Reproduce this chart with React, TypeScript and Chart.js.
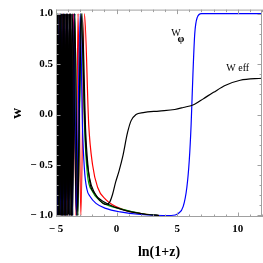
import { useEffect, useRef } from 'react';
import { Chart, registerables } from 'chart.js';

Chart.register(...registerables);

// Tick labels
const xMajorTicks = [-5, 0, 5, 10];
const yMajorTicks = [-1, -0.5, 0, 0.5, 1];

// W_eff (black): fast oscillations at the left, then the smooth curve
const wEff: [number, number][] = [
  [-5.0, 1], [-4.94, -1], [-4.88, 1], [-4.82, -1], [-4.76, 1], [-4.7, -1], [-4.64, 1], [-4.58, -1],
  [-4.52, 1], [-4.46, -1], [-4.4, 1], [-4.34, -1], [-4.28, 1], [-4.22, -1], [-4.16, 1], [-4.1, -1],
  [-4.04, 1], [-3.98, -1], [-3.92, 1], [-3.86, -1], [-3.8, 1], [-3.74, -1], [-3.68, 1], [-3.62, -1],
  [-3.45, 1], [-3.2, -1], [-2.95, 1],
  [-2.55, -0.3], [-2.23, -0.63], [-1.8, -0.78], [-1.4, -0.85], [-0.9, -0.89], [-0.58, -0.87],
  [-0.33, -0.79], [-0.08, -0.67], [0.2, -0.56], [0.5, -0.42], [0.9, -0.18], [1.2, -0.06],
  [1.6, 0.0], [2.2, 0.02], [3.5, 0.035], [4.8, 0.05], [5.5, 0.07], [6.4, 0.1], [7.2, 0.16],
  [8.0, 0.22], [9.0, 0.29], [10.2, 0.34], [12.0, 0.36],
];

// w_phi, black initial condition
const wPhiBlack: [number, number][] = [
  [-5.0, -1], [-4.97, 1], [-4.91, -1], [-4.85, 1], [-4.79, -1], [-4.73, 1], [-4.67, -1], [-4.61, 1],
  [-4.55, -1], [-4.49, 1], [-4.43, -1], [-4.37, 1], [-4.31, -1], [-4.25, 1], [-4.19, -1], [-4.13, 1],
  [-4.07, -1], [-4.01, 1], [-3.95, -1], [-3.89, 1], [-3.83, -1], [-3.77, 1], [-3.71, -1], [-3.65, 1],
  [-3.3, -1], [-2.85, 1],
  [-2.55, -0.17], [-2.23, -0.65], [-1.82, -0.78], [-0.99, -0.87], [-0.08, -0.92], [1.0, -0.96],
  [2.5, -0.99], [3.5, -1.0],
];

// w_phi, blue (continues to the late-time rise)
const wPhiBlue: [number, number][] = [
  [-5.0, 1], [-4.88, -1], [-4.76, 1], [-4.64, -1], [-4.52, 1], [-4.4, -1], [-4.28, 1], [-4.16, -1],
  [-4.04, 1], [-3.92, -1], [-3.8, 1], [-3.66, -1], [-3.5, 1], [-3.33, -1], [-3.0, 1],
  [-2.82, -0.1], [-2.65, -0.55], [-2.45, -0.74], [-2.2, -0.81], [-1.7, -0.88], [-0.9, -0.93],
  [0.3, -0.965], [2.0, -0.99], [4.5, -1.0], [5.1, -0.98], [5.5, -0.91], [5.8, -0.72], [6.0, -0.45],
  [6.15, -0.1], [6.3, 0.4], [6.45, 0.8], [6.65, 0.96], [7.0, 1.0], [12.0, 1.0],
];

// w_phi, green initial condition
const wPhiGreen: [number, number][] = [
  [-5.0, -1], [-4.87, 1], [-4.74, -1], [-4.61, 1], [-4.48, -1], [-4.35, 1], [-4.22, -1], [-4.09, 1],
  [-3.96, -1], [-3.83, 1], [-3.68, -1], [-3.45, 1], [-3.2, -1], [-2.92, 1],
  [-2.62, -0.2], [-2.4, -0.6], [-2.0, -0.76], [-1.4, -0.85], [-0.9, -0.89], [0.5, -0.94],
  [2.0, -0.98], [3.5, -1.0],
];

// w_phi, red initial condition
const wPhiRed: [number, number][] = [
  [-5.0, 1], [-4.86, -1], [-4.72, 1], [-4.58, -1], [-4.44, 1], [-4.3, -1], [-4.16, 1], [-4.02, -1],
  [-3.88, 1], [-3.72, -1], [-3.55, 1], [-3.35, -1], [-3.18, 1], [-2.95, -1], [-2.65, 1],
  [-2.3, -0.1], [-1.98, -0.5], [-1.57, -0.72], [-0.91, -0.84], [0.5, -0.94], [2.0, -0.98],
  [3.5, -1.0],
];

// Curve labels (data coordinates)
const wPhiLabelAt = { x: 4.9, y: 0.8 };
const wEffLabelAt = { x: 10.0, y: 0.46 };

const SERIF = '"Liberation Serif", "Times New Roman", serif';

const fmt = (v: number, digits: number) => {
  const s = Math.abs(v).toFixed(digits);
  return v < 0 ? '\u2212 ' + s : s;
};

const toXY = (arr: [number, number][]) => arr.map(([x, y]) => ({ x, y }));

const framePlugin = {
  id: 'frameTicks',
  afterDatasetsDraw(chart: any) {
    const { ctx, chartArea, scales } = chart;
    const { left, right, top, bottom } = chartArea;
    const xs = scales.x;
    const ys = scales.y;
    ctx.save();
    ctx.strokeStyle = '#a0a0a0';
    ctx.lineWidth = 1;
    ctx.strokeRect(left + 0.5, top + 0.5, right - left - 1, bottom - top - 1);
    ctx.beginPath();
    for (let i = -5; i <= 12; i++) {
      const px = Math.round(xs.getPixelForValue(i)) + 0.5;
      const len = xMajorTicks.includes(i) ? 4.5 : 2.5;
      ctx.moveTo(px, bottom);
      ctx.lineTo(px, bottom - len);
      ctx.moveTo(px, top);
      ctx.lineTo(px, top + len);
    }
    for (let i = -10; i <= 10; i++) {
      const py = Math.round(ys.getPixelForValue(i / 10)) + 0.5;
      const len = i % 5 === 0 ? 4.5 : 2.5;
      ctx.moveTo(left, py);
      ctx.lineTo(left + len, py);
      ctx.moveTo(right, py);
      ctx.lineTo(right - len, py);
    }
    ctx.stroke();

    // curve labels
    ctx.fillStyle = '#000';
    ctx.textBaseline = 'middle';
    ctx.textAlign = 'center';
    const p1x = xs.getPixelForValue(wPhiLabelAt.x);
    const p1y = ys.getPixelForValue(wPhiLabelAt.y);
    ctx.font = `10px ${SERIF}`;
    ctx.fillText('W', p1x, p1y);
    ctx.font = `bold 11px ${SERIF}`;
    ctx.fillText('\u03C6', p1x + 5, p1y + 5);
    const p2x = xs.getPixelForValue(wEffLabelAt.x);
    const p2y = ys.getPixelForValue(wEffLabelAt.y);
    ctx.font = `10px ${SERIF}`;
    ctx.fillText('W eff', p2x, p2y);
    ctx.restore();
  },
};

export default function App() {
  const ref = useRef<HTMLCanvasElement>(null);

  useEffect(() => {
    if (!ref.current) return;
    const line = (data: [number, number][], color: string, order: number) => ({
      data: toXY(data),
      borderColor: color,
      backgroundColor: color,
      borderWidth: 1.2,
      pointRadius: 0,
      showLine: true,
      fill: false,
      cubicInterpolationMode: 'monotone' as const,
      order,
    });
    const chart = new Chart(ref.current, {
      type: 'scatter',
      data: {
        datasets: [
          line(wEff, '#000000', 0),
          line(wPhiBlack, '#000000', 1),
          line(wPhiBlue, '#0000ff', 2),
          line(wPhiGreen, '#00a000', 3),
          line(wPhiRed, '#ff0000', 4),
        ],
      },
      options: {
        animation: false,
        responsive: false,
        events: [],
        layout: { padding: { top: 6, right: 1, left: 0, bottom: 0 } },
        plugins: { legend: { display: false }, tooltip: { enabled: false } },
        scales: {
          x: {
            type: 'linear',
            min: -5,
            max: 12,
            afterBuildTicks: (s: any) => {
              s.ticks = xMajorTicks.map((v) => ({ value: v }));
            },
            afterFit: (s: any) => {
              s.height = 46;
            },
            grid: { display: false, drawTicks: false },
            border: { display: false },
            ticks: {
              padding: 6,
              color: '#000',
              font: { family: SERIF, size: 11, weight: 'bold' },
              callback: (v: any) => fmt(Number(v), 0),
              maxRotation: 0,
            },
            title: {
              display: true,
              text: 'ln(1+z)',
              color: '#000',
              font: { family: SERIF, size: 14, weight: 'bold' },
              padding: { top: 0, bottom: 2 },
            },
          },
          y: {
            type: 'linear',
            min: -1.015,
            max: 1.04,
            afterBuildTicks: (s: any) => {
              s.ticks = yMajorTicks.map((v) => ({ value: v }));
            },
            afterFit: (s: any) => {
              s.width = 56;
            },
            grid: { display: false, drawTicks: false },
            border: { display: false },
            ticks: {
              padding: 3,
              color: '#000',
              font: { family: SERIF, size: 11, weight: 'bold' },
              callback: (v: any) => fmt(Number(v), 1),
            },
            title: {
              display: true,
              text: 'w',
              color: '#000',
              font: { family: SERIF, size: 15, weight: 'bold' },
              padding: { top: 8, bottom: 0 },
            },
          },
        },
      },
      plugins: [framePlugin],
    });
    return () => chart.destroy();
  }, []);

  return (
    <div style={{ position: 'absolute', left: 0, top: 0, width: 263, height: 263, background: '#fff' }}>
      <canvas ref={ref} width={263} height={263} style={{ display: 'block' }} />
    </div>
  );
}
